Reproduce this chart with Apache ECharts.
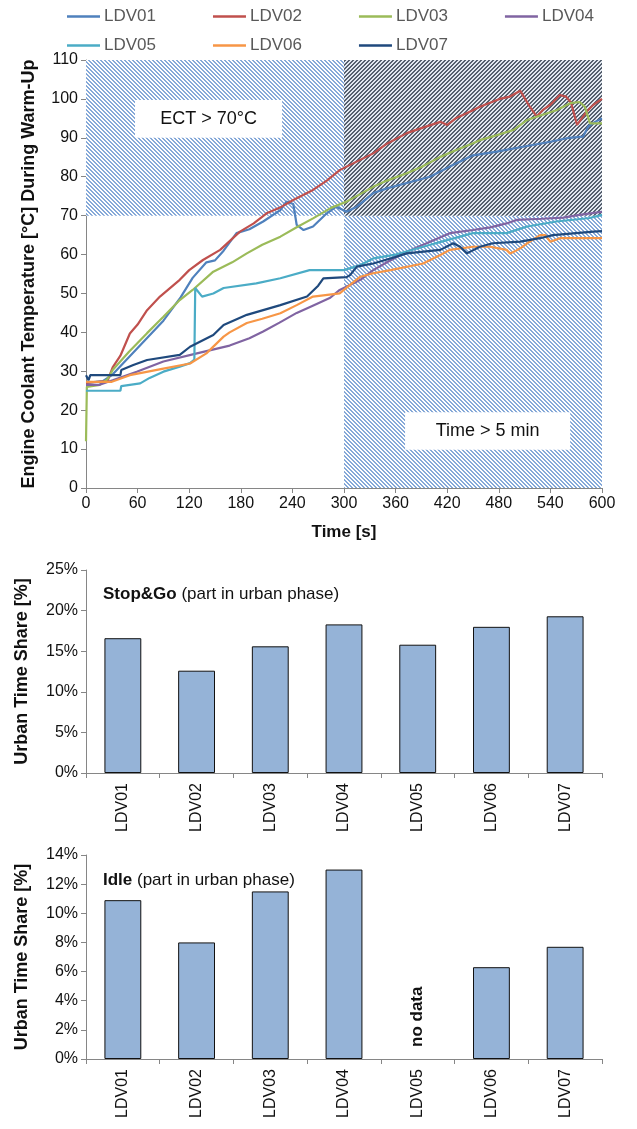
<!DOCTYPE html>
<html>
<head>
<meta charset="utf-8">
<script src="https://cdn.jsdelivr.net/npm/echarts@6/dist/echarts.min.js"></script>
<style>
html,body{margin:0;padding:0;background:#fff;}
#c{width:637px;height:1129px;}
</style>
</head>
<body>
<div id="c"></div>
<script>
// ---------- DATA ----------
const seriesNames = ['LDV01','LDV02','LDV03','LDV04','LDV05','LDV06','LDV07'];
const seriesColors = ['#4F81BD','#C0504D','#9BBB59','#8064A2','#4BACC6','#F79646','#1F497D'];

const ldv01 = [[0,27],[20,27.5],[30,29],[60,36],[90,43],[110,49],[124,54],[140,58],[150,58.5],[160,61],[175,65.5],[190,66.5],[206,68.5],[226,71.4],[233,73.6],[241,73],[245,67.6],[253,66.3],[264,67.2],[280,70.6],[291,72.3],[303,71],[315,72.3],[334,75.8],[350,77],[373,78.4],[400,80],[423,82.6],[450,85.5],[476,86.4],[513,87.9],[540,89],[559,89.9],[578,90.3],[584,92.9],[592,94.1],[600,95]];
const ldv02 = [[0,27],[25,27.5],[31,31],[40,34],[51,39.7],[60,42],[71,45.7],[86,49.2],[109,53.5],[120,56],[136,58.6],[156,61.2],[179,65.9],[195,68],[210,70.6],[225,72],[241,74],[264,76.6],[280,79],[295,81.7],[303,82.6],[334,86],[350,88.5],[373,91.2],[390,92.5],[412,94.1],[420,93.3],[430,95],[450,97.1],[458,98],[481,100],[493,100.6],[505,102.1],[509,100.6],[516,98],[524,95.5],[531,97.1],[540,98.5],[551,101],[558,100.6],[564,99],[571,93.3],[582,96.7],[590,98.5],[600,100]];
const ldv03 = [[0,12],[1,26],[16,26.5],[25,28],[31,30.3],[50,35],[71,39.8],[90,44],[109,48.3],[124,50.9],[148,55.6],[170,58],[187,60.3],[205,62.5],[226,64.6],[245,67],[264,69.3],[285,72],[303,73.6],[334,77.4],[350,79],[373,80.9],[390,82.5],[412,85.1],[430,86.8],[450,88.6],[458,89.4],[475,90.5],[497,92],[513,94.6],[524,95.4],[547,97.1],[563,98.9],[574,99.2],[580,98],[586,93.7],[600,93.7]];
const ldv04 = [[0,26.5],[15,26.5],[31,27.7],[59,29.9],[90,32.5],[129,34.6],[167,36.6],[190,38.5],[206,40.2],[225,42.5],[245,45],[265,47],[284,48.9],[295,50.9],[307,52.2],[319,53.5],[334,56],[350,58],[373,60.7],[396,62.9],[423,65.5],[450,66.3],[470,67],[489,68],[501,68.9],[530,69.2],[555,69.5],[574,70.2],[600,71]];
const ldv05 = [[0,25],[40,25],[41,26.2],[63,26.9],[74,28.3],[90,29.9],[109,31.2],[121,32.1],[126,33],[127,51.4],[135,49.2],[148,50],[160,51.4],[198,52.6],[226,53.9],[260,56],[300,56],[319,57.3],[334,59],[360,60],[392,62],[420,63.7],[450,65.5],[489,65.5],[513,67.2],[547,68.5],[586,69.4],[600,70.2]];
const ldv06 = [[0,27.3],[30,27.3],[51,29],[90,30.7],[121,32],[140,34.6],[160,38.9],[167,40],[187,42.4],[205,43.5],[226,44.9],[245,47],[264,49.2],[295,50],[307,52.2],[319,54.3],[334,55.2],[354,56],[392,57.7],[412,59.9],[423,61.2],[450,62],[470,62],[489,61.2],[493,60.3],[500,61],[505,61.6],[513,62.9],[528,65],[534,65],[540,63.3],[551,64.2],[600,64.2]];
const ldv07 = [[0,29],[3,27.7],[5,29],[40,29],[41,30.3],[55,31.6],[71,32.9],[109,34.2],[121,36.3],[148,39.3],[160,41.9],[187,44.5],[226,47],[257,49.2],[270,52],[276,53.9],[303,54.2],[307,54.7],[315,56.9],[334,57.7],[354,59],[373,60.3],[412,61.2],[427,62.9],[435,62],[443,60.3],[458,62],[473,62.9],[505,63.3],[528,64.2],[543,65],[590,65.9],[600,66]];
const lineData = [ldv01, ldv02, ldv03, ldv04, ldv05, ldv06, ldv07];

const timeTicks = {min:0, max:600, interval:60};
const tempTicks = {min:0, max:110, interval:10};

// shaded zones [t0, T0, t1, T1]
const ectZone = [0, 70, 300, 110];
const timeZone = [300, 0, 600, 70];
const bothZone = [300, 70, 600, 110];
// annotation boxes [t0, T0, t1, T1, text]
const ectBox = [57, 90, 228, 99.7, 'ECT > 70°C'];
const timeBox = [371, 9.8, 563, 19.5, 'Time > 5 min'];

const barCategories = ['LDV01','LDV02','LDV03','LDV04','LDV05','LDV06','LDV07'];
const stopGoShare = [16.6, 12.6, 15.6, 18.3, 15.8, 18.0, 19.3];
const idleShare = [10.9, 8.0, 11.5, 13.0, null, 6.3, 7.7];
const noDataLabel = ['LDV05', 2.9, 'no data'];

// ---------- PATTERNS ----------
function stripePattern(dir, fg, bg) {
  const c = document.createElement('canvas');
  c.width = 8; c.height = 8;
  const ctx = c.getContext('2d');
  const img = ctx.createImageData(8, 8);
  const p = s => [parseInt(s.slice(1,3),16), parseInt(s.slice(3,5),16), parseInt(s.slice(5,7),16)];
  const f = p(fg), b = p(bg);
  for (let y = 0; y < 8; y++) for (let x = 0; x < 8; x++) {
    const k = dir === '\\' ? (((x - y) % 4) + 4) % 4 : (x + y) % 4;
    const col = k < 2 ? f : b;
    const i = (y * 8 + x) * 4;
    img.data[i] = col[0]; img.data[i+1] = col[1]; img.data[i+2] = col[2]; img.data[i+3] = 255;
  }
  ctx.putImageData(img, 0, 0);
  return {image: c, repeat: 'repeat'};
}
const bluePat = stripePattern('\\', '#86a9d8', '#ffffff');
const darkPat = stripePattern('/', '#56606e', '#e2e8f0');

// ---------- CHART ----------
const FONT = '"Liberation Sans", Arial, sans-serif';
const axisLine = {show:true, lineStyle:{color:'#868686', width:1}};
const axisTick = {show:true, length:5, lineStyle:{color:'#868686'}};
const tickLabel = {color:'#111', fontSize:16, fontFamily:FONT};

const zoneArea = (z, pat) => [{xAxis:z[0], yAxis:z[1], itemStyle:{color:pat, opacity:1}}, {xAxis:z[2], yAxis:z[3]}];
const boxArea = b => [{xAxis:b[0], yAxis:b[1], name:b[4]}, {xAxis:b[2], yAxis:b[3]}];

const chart = echarts.init(document.getElementById('c'), null, {renderer:'canvas'});

const lineSeries = seriesNames.map((n, i) => ({
  name: n, type: 'line', xAxisIndex: 0, yAxisIndex: 0,
  data: lineData[i], showSymbol: false, symbol: 'none',
  lineStyle: {width: 2.2, color: seriesColors[i]}, itemStyle: {color: seriesColors[i]},
  z: 3, animation: false
}));

const legendBase = {left: 62, itemWidth: 33, itemHeight: 2.5, itemGap: 57, icon: 'rect',
  textStyle: {fontSize: 17, color: '#595959', fontFamily: FONT, padding: [0,0,0,-1]}};

const option = {
  animation: false,
  textStyle: {fontFamily: FONT},
  legend: [
    Object.assign({data: seriesNames.slice(0,4), top: 3}, legendBase),
    Object.assign({data: seriesNames.slice(4), top: 32}, legendBase)
  ],
  title: [
    {text: '{b|Stop&Go} (part in urban phase)', left: 98, top: 581,
     textStyle: {fontSize: 17, fontWeight: 'normal', color: '#111', fontFamily: FONT,
       rich: {b: {fontSize: 17, fontWeight: 'bold', color: '#111', fontFamily: FONT}}}},
    {text: '{b|Idle} (part in urban phase)', left: 98, top: 867,
     textStyle: {fontSize: 17, fontWeight: 'normal', color: '#111', fontFamily: FONT,
       rich: {b: {fontSize: 17, fontWeight: 'bold', color: '#111', fontFamily: FONT}}}}
  ],
  grid: [
    {left: 86, top: 60, width: 516, height: 428},
    {left: 86, top: 570, width: 516, height: 203},
    {left: 86, top: 855, width: 516, height: 204}
  ],
  xAxis: [
    {type: 'value', gridIndex: 0, min: timeTicks.min, max: timeTicks.max, interval: timeTicks.interval,
     axisLine, axisTick, splitLine: {show: false}, axisLabel: Object.assign({margin: 8}, tickLabel),
     name: 'Time [s]', nameLocation: 'middle', nameGap: 36,
     nameTextStyle: {fontSize: 17, fontWeight: 'bold', color: '#111', fontFamily: FONT}},
    {type: 'category', gridIndex: 1, data: barCategories, axisLine, axisTick,
     axisLabel: Object.assign({rotate: 90, margin: 10}, tickLabel)},
    {type: 'category', gridIndex: 2, data: barCategories, axisLine, axisTick,
     axisLabel: Object.assign({rotate: 90, margin: 10}, tickLabel)}
  ],
  yAxis: [
    {type: 'value', gridIndex: 0, min: tempTicks.min, max: tempTicks.max, interval: tempTicks.interval,
     axisLine, axisTick, splitLine: {show: false}, axisLabel: Object.assign({margin: 8}, tickLabel),
     name: 'Engine Coolant Temperature [°C] During Warm-Up', nameLocation: 'middle', nameGap: 48,
     nameTextStyle: {fontSize: 18, fontWeight: 'bold', color: '#111', fontFamily: FONT}},
    {type: 'value', gridIndex: 1, min: 0, max: 25, interval: 5,
     axisLine, axisTick, splitLine: {show: false},
     axisLabel: Object.assign({margin: 8, formatter: '{value}%'}, tickLabel),
     name: 'Urban Time Share [%]', nameLocation: 'middle', nameGap: 55,
     nameTextStyle: {fontSize: 18, fontWeight: 'bold', color: '#111', fontFamily: FONT}},
    {type: 'value', gridIndex: 2, min: 0, max: 14, interval: 2,
     axisLine, axisTick, splitLine: {show: false},
     axisLabel: Object.assign({margin: 8, formatter: '{value}%'}, tickLabel),
     name: 'Urban Time Share [%]', nameLocation: 'middle', nameGap: 55,
     nameTextStyle: {fontSize: 18, fontWeight: 'bold', color: '#111', fontFamily: FONT}}
  ],
  series: [
    {name: 'zones', type: 'line', xAxisIndex: 0, yAxisIndex: 0, data: [], z: 1, silent: true,
     markArea: {silent: true, data: [zoneArea(ectZone, bluePat), zoneArea(timeZone, bluePat), zoneArea(bothZone, darkPat)]}},
    {name: 'boxes', type: 'line', xAxisIndex: 0, yAxisIndex: 0, data: [], z: 5, silent: true,
     markArea: {silent: true, itemStyle: {color: '#ffffff', opacity: 1},
       label: {show: true, position: 'inside', fontSize: 18, color: '#111', fontFamily: FONT},
       data: [boxArea(ectBox), boxArea(timeBox)]}}
  ].concat(lineSeries).concat([
    {name: 'Stop&Go', type: 'bar', xAxisIndex: 1, yAxisIndex: 1, data: stopGoShare, barWidth: '50%',
     itemStyle: {color: '#95B3D7', borderColor: '#111', borderWidth: 1}},
    {name: 'Idle', type: 'bar', xAxisIndex: 2, yAxisIndex: 2, data: idleShare, barWidth: '50%',
     itemStyle: {color: '#95B3D7', borderColor: '#111', borderWidth: 1},
     markPoint: {symbol: 'circle', symbolSize: 1, itemStyle: {color: 'rgba(0,0,0,0)'},
       label: {show: true, formatter: noDataLabel[2], rotate: 90, position: 'inside',
         fontSize: 17, fontWeight: 'bold', color: '#111', fontFamily: FONT},
       data: [{coord: [noDataLabel[0], noDataLabel[1]]}]}}
  ])
};
chart.setOption(option);
</script>
</body>
</html>
